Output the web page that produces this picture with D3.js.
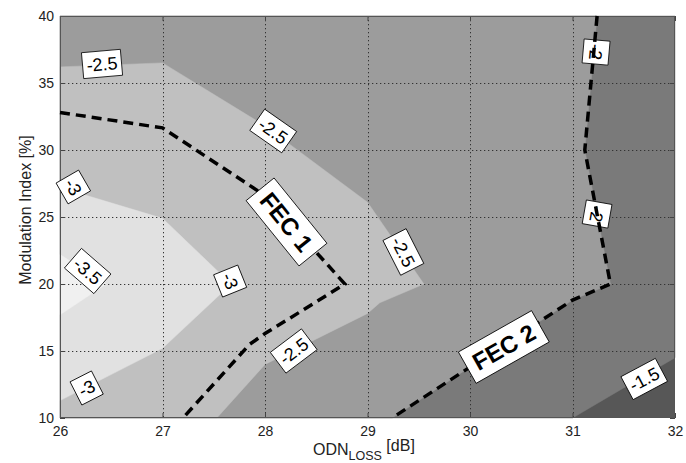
<!DOCTYPE html>
<html><head><meta charset="utf-8">
<script src="https://cdn.jsdelivr.net/npm/d3@7/dist/d3.min.js"></script>
<style>body{margin:0;background:#fff}svg{display:block}</style>
</head><body><svg id="c" width="686" height="463"></svg>
<script>
// ---- data ----
const xTicks = [26, 27, 28, 29, 30, 31, 32];
const yTicks = [10, 15, 20, 25, 30, 35, 40];
const levels = [-3.5, -3, -2.5, -2, -1.5];
// contour lines of log10(BER), [ODN loss dB, modulation index %]
const lineM35 = [[26, 22.2], [26.45, 20], [26, 17.7]];
const lineM30 = [[26, 27.2], [27, 24.9], [27.67, 20], [27, 15.2], [26, 11.3]];
const lineM25 = [[26, 36.2], [27, 36.5], [28, 31.8], [29, 26.1], [29.55, 20], [29.12, 18.6], [29, 17.8], [28, 14], [27.53, 10]];
const lineM20 = [[31.24, 40], [31.12, 30], [31.37, 20], [31, 18.8], [29.24, 10]];
const lineM15 = [[31, 10], [32, 14.5]];
const fec1 = [[26, 32.8], [27, 31.65], [28, 26.6], [28.78, 20], [28, 16.3], [27.85, 15.5], [27.2, 10]];
const fec2 = lineM20;
// contour labels
const labelText  = ["-2.5", "-2.5", "-3", "-3.5", "-3", "-2.5", "-2.5", "-3", "-2", "-2", "-1.5"];
const labelX     = [26.41, 28.08, 26.13, 26.27, 27.66, 28.28, 29.35, 26.26, 31.23, 31.24, 31.70];
const labelY     = [36.42, 31.42, 27.24, 20.97, 20.22, 15.0, 22.39, 12.24, 37.31, 25.22, 12.91];
const labelAngle = [-5, 35, 60, 41, 68, -37, 63, -27, 95, 100, -28];
const fecText  = ["FEC 1", "FEC 2"];
const fecX     = [28.21, 30.33];
const fecY     = [24.63, 15.30];
const fecAngle = [51, -29.5];

// ---- drawing ----
const svg = d3.select("#c");
const L = 60, R = 675, T = 16, B = 418;
const x = d3.scaleLinear().domain([26, 32]).range([L, R]);
const y = d3.scaleLinear().domain([10, 40]).range([B, T]);
const fills = ["#f0f0f0", "#e1e1e1", "#c0c0c0", "#9c9c9c", "#7a7a7a", "#575757"];
const font = "'Liberation Sans', Arial, Helvetica, sans-serif";

const [x0, x1] = x.domain(), [y0, y1] = y.domain();
// region z < level: contour line closed along the plot's left side
const regions = [
  lineM35,
  lineM30,
  lineM25.concat([[x0, y0]]),
  lineM20.concat([[x0, y0], [x0, y1]]),
  lineM15.concat([[x1, y1], [x0, y1], [x0, y0]])
];
const line = d3.line().x(d => x(d[0])).y(d => y(d[1]));

const plot = svg.append("g");
plot.append("rect").attr("x", L).attr("y", T).attr("width", R - L).attr("height", B - T).attr("fill", fills[5]);
for (let i = levels.length - 1; i >= 0; i--) {
  plot.append("path").attr("d", line(regions[i]) + "Z").attr("fill", fills[i]).attr("stroke", fills[i]).attr("stroke-width", 0.5);
}

// grid
const grid = svg.append("g").attr("stroke", "#333").attr("stroke-width", 1).attr("stroke-dasharray", "1.3,2.7");
xTicks.slice(1, -1).forEach(v => grid.append("line").attr("x1", Math.round(x(v)) + 0.5).attr("x2", Math.round(x(v)) + 0.5).attr("y1", T).attr("y2", B));
yTicks.slice(1, -1).forEach(v => grid.append("line").attr("y1", Math.round(y(v)) + 0.5).attr("y2", Math.round(y(v)) + 0.5).attr("x1", L).attr("x2", R));

// axes
const ax = d3.axisBottom(x).tickValues(xTicks).tickSizeInner(-5).tickSizeOuter(0).tickPadding(8).tickFormat(d3.format("d"));
const ay = d3.axisLeft(y).tickValues(yTicks).tickSizeInner(-5).tickSizeOuter(0).tickPadding(6).tickFormat(d3.format("d"));
svg.append("g").attr("transform", `translate(0,${B})`).call(ax);
svg.append("g").attr("transform", `translate(${L},0)`).call(ay);
svg.append("g").attr("transform", `translate(0,${T})`).call(d3.axisTop(x).tickValues(xTicks).tickSizeInner(-5).tickSizeOuter(0).tickFormat(""));
svg.append("g").attr("transform", `translate(${R},0)`).call(d3.axisRight(y).tickValues(yTicks).tickSizeInner(-5).tickSizeOuter(0).tickFormat(""));
svg.selectAll(".domain").remove();
svg.selectAll(".tick line").attr("stroke", "#444");
svg.selectAll(".tick text").attr("font-family", font).attr("font-size", 14).attr("fill", "#222");
svg.append("rect").attr("x", L + 0.5).attr("y", T + 0.5).attr("width", R - L - 1).attr("height", B - T - 1)
  .attr("fill", "none").attr("stroke", "#555").attr("stroke-width", 1);

// labels helper
function boxLabel(g, text, cx, cy, ang, size, weight, padX, padY) {
  const lg = g.append("g").attr("transform", `translate(${cx},${cy}) rotate(${ang})`);
  const r = lg.append("rect").attr("fill", "#fff").attr("stroke", "#000").attr("stroke-width", 0.8);
  const t = lg.append("text").text(text).attr("font-family", font).attr("font-size", size)
    .attr("font-weight", weight).attr("text-anchor", "middle").attr("dy", "0.36em").attr("fill", "#000");
  const w = t.node().getComputedTextLength() + 2 * padX, h = size + 2 * padY;
  r.attr("x", -w / 2).attr("y", -h / 2).attr("width", w).attr("height", h);
}

const labG = svg.append("g");
labelText.forEach((s, i) => boxLabel(labG, s, x(labelX[i]), y(labelY[i]), labelAngle[i], 18, "normal", 4, 4));

// FEC dashed lines
svg.append("path").attr("d", line(fec1)).attr("fill", "none").attr("stroke", "#000").attr("stroke-width", 3.5).attr("stroke-dasharray", "10,6");
svg.append("path").attr("d", line(fec2)).attr("fill", "none").attr("stroke", "#000").attr("stroke-width", 3.5).attr("stroke-dasharray", "10,6");

const fecG = svg.append("g");
fecText.forEach((s, i) => boxLabel(fecG, s, x(fecX[i]), y(fecY[i]), fecAngle[i], 24, "bold", 8, 6));

// axis titles
const xt = svg.append("text").attr("x", 313).attr("y", 455).attr("font-family", font).attr("font-size", 16).attr("fill", "#222");
xt.append("tspan").text("ODN");
xt.append("tspan").text("LOSS").attr("font-size", 12.5).attr("dy", 4.5);
xt.append("tspan").text(" [dB]").attr("dy", -8.5);
svg.append("text").attr("transform", "translate(31,210) rotate(-90)").attr("text-anchor", "middle")
  .attr("font-family", font).attr("font-size", 16).attr("fill", "#222").text("Modulation Index [%]");
</script></body></html>
